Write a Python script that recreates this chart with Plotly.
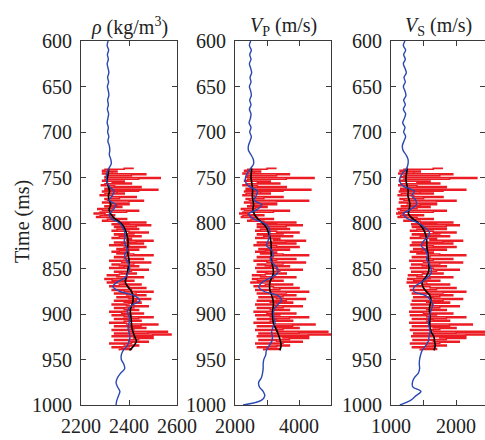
import plotly.graph_objects as go

# ---------------- data ----------------
t_blue = list(range(600, 1005, 5))
t_black = list(range(740, 945, 5))
t_red = list(range(740, 941, 1))

rho_blue = [2313, 2309, 2315, 2310, 2314, 2309, 2313, 2316, 2311, 2315,
            2310, 2314, 2316, 2311, 2314, 2310, 2315, 2312, 2309, 2314,
            2311, 2316, 2312, 2318, 2320, 2318, 2324, 2326, 2316, 2308,
            2306, 2309, 2318, 2338, 2330, 2318, 2346, 2335, 2318, 2326,
            2360, 2374, 2382, 2383, 2380, 2386, 2394, 2382, 2388, 2398,
            2403, 2396, 2385, 2350, 2333, 2360, 2424, 2445, 2415, 2396,
            2396, 2403, 2400, 2396, 2400, 2404, 2400, 2392, 2376, 2368,
            2368, 2378, 2382, 2365, 2352, 2346, 2352, 2362, 2356, 2349, 2346]
rho_black = [2315, 2314, 2310, 2309, 2314, 2319, 2314, 2318, 2324, 2317,
             2324, 2340, 2366, 2380, 2388, 2393, 2396, 2395, 2394, 2396,
             2400, 2400, 2396, 2393, 2388, 2385, 2395, 2410, 2416, 2417,
             2412, 2406, 2406, 2409, 2410, 2412, 2417, 2424, 2431, 2420, 2402]
rho_red = [2420, 2380, 2300, 2290, 2350, 2330, 2290, 2470, 2410, 2310,
           2300, 2530, 2440, 2300, 2290, 2380, 2330, 2410, 2300, 2285,
           2340, 2450, 2320, 2300, 2520, 2440, 2290, 2350, 2380, 2300,
           2280, 2330, 2430, 2360, 2300, 2310, 2460, 2400, 2290, 2320,
           2400, 2350, 2300, 2370, 2330, 2270, 2290, 2440, 2390, 2280,
           2255, 2300, 2340, 2280, 2265, 2330, 2390, 2310, 2290, 2360,
           2470, 2400, 2330, 2490, 2430, 2340, 2380, 2440, 2350, 2330,
           2400, 2480, 2420, 2340, 2380, 2450, 2360, 2330, 2410, 2390,
           2500, 2430, 2340, 2460, 2370, 2320, 2400, 2470, 2380, 2350,
           2440, 2360, 2330, 2400, 2350, 2420, 2500, 2390, 2340, 2380,
           2460, 2400, 2320, 2370, 2490, 2420, 2330, 2360, 2440, 2380,
           2320, 2400, 2480, 2410, 2340, 2370, 2430, 2360, 2310, 2350,
           2460, 2390, 2300, 2330, 2420, 2350, 2310, 2380, 2450, 2360,
           2320, 2400, 2470, 2410, 2330, 2380, 2500, 2430, 2340, 2390,
           2470, 2420, 2350, 2400, 2490, 2430, 2340, 2380, 2450, 2400,
           2330, 2390, 2480, 2420, 2340, 2380, 2440, 2390, 2320, 2370,
           2460, 2410, 2330, 2380, 2500, 2440, 2340, 2400, 2450, 2380,
           2320, 2390, 2520, 2450, 2340, 2400, 2470, 2420, 2330, 2400,
           2560, 2480, 2340, 2575, 2500, 2330, 2420, 2500, 2440, 2340,
           2400, 2480, 2410, 2320, 2380, 2440, 2400, 2330, 2370, 2410,
           2360]

vp_blue = [2490, 2450, 2510, 2460, 2500, 2450, 2490, 2520, 2470, 2500,
           2450, 2490, 2510, 2460, 2500, 2450, 2500, 2480, 2440, 2500,
           2460, 2510, 2470, 2420, 2420, 2500, 2570, 2580, 2490, 2390,
           2330, 2330, 2450, 2700, 2660, 2600, 2840, 2700, 2430, 2560,
           2900, 3060, 3090, 3070, 3030, 2990, 3150, 3190, 3110, 3200,
           3330, 3330, 3120, 2860, 2740, 2900, 3350, 3455, 3330, 3220,
           3200, 3220, 3250, 3180, 3145, 3170, 3150, 3060, 2980, 2960,
           2900, 2880, 2880, 2860, 2825, 2740, 2760, 2880, 2930, 2820, 2250]
vp_black = [2520, 2510, 2500, 2520, 2540, 2550, 2540, 2560, 2580, 2560,
            2600, 2700, 2860, 2980, 3040, 3090, 3120, 3130, 3130, 3130,
            3140, 3160, 3190, 3200, 3150, 3090, 3080, 3100, 3150, 3190,
            3200, 3180, 3170, 3180, 3200, 3260, 3330, 3380, 3420, 3440, 3400]
vp_red = [3300, 3000, 2400, 2300, 2800, 2600, 2250, 3700, 3300, 2400,
          2350, 4470, 3600, 2400, 2300, 3100, 2700, 3400, 2350, 2250,
          2700, 3600, 2500, 2350, 4370, 3500, 2300, 2800, 3100, 2350,
          2250, 2600, 3500, 2900, 2350, 2450, 4300, 3300, 2300, 2500,
          3300, 2800, 2400, 3000, 2650, 2200, 2300, 3700, 3200, 2250,
          2150, 2400, 2900, 2250, 2200, 2700, 3200, 2500, 2400, 2900,
          3900, 3300, 2700, 4100, 3600, 2700, 3000, 3700, 2800, 2650,
          3300, 4000, 3500, 2700, 3100, 3800, 2900, 2650, 3400, 3200,
          4200, 3600, 2700, 3900, 3000, 2600, 3300, 4000, 3100, 2750,
          3700, 2950, 2650, 3300, 2800, 3500, 4300, 3200, 2700, 3100,
          3900, 3300, 2600, 3000, 4200, 3500, 2700, 2950, 3700, 3100,
          2650, 3300, 4100, 3400, 2700, 3000, 3600, 2950, 2550, 2800,
          3900, 3200, 2550, 2700, 3500, 2850, 2500, 3100, 3800, 2950,
          2600, 3200, 4000, 3400, 2650, 3100, 4300, 3600, 2700, 3200,
          3900, 3500, 2750, 3300, 4200, 3600, 2700, 3100, 3800, 3300,
          2650, 3200, 4100, 3500, 2700, 3100, 3700, 3200, 2600, 3000,
          3900, 3400, 2650, 3100, 4300, 3700, 2700, 3300, 3800, 3100,
          2600, 3200, 4500, 3800, 2700, 3300, 4000, 3500, 2650, 3300,
          4900, 4000, 2750, 5100, 4300, 2700, 3500, 4300, 3700, 2750,
          3300, 4100, 3500, 2650, 3100, 3700, 3300, 2700, 3000, 3400,
          2900]

vs_blue = [1215, 1190, 1225, 1195, 1220, 1190, 1215, 1235, 1200, 1220,
           1190, 1215, 1230, 1195, 1220, 1190, 1225, 1205, 1180, 1215,
           1195, 1225, 1200, 1175, 1185, 1230, 1262, 1262, 1240, 1180,
           1140, 1136, 1200, 1360, 1320, 1380, 1390, 1300, 1190, 1250,
           1420, 1520, 1590, 1570, 1500, 1465, 1530, 1560, 1550, 1590,
           1615, 1620, 1560, 1470, 1360, 1350, 1540, 1610, 1641, 1620,
           1600, 1585, 1575, 1590, 1600, 1585, 1575, 1530, 1480, 1455,
           1440, 1435, 1440, 1420, 1360, 1330, 1335, 1460, 1380, 1300, 1136]
vs_black = [1250, 1240, 1230, 1235, 1250, 1265, 1260, 1280, 1290, 1280,
            1270, 1330, 1420, 1480, 1520, 1540, 1550, 1550, 1560, 1570,
            1575, 1580, 1585, 1570, 1530, 1480, 1490, 1540, 1600, 1615,
            1600, 1590, 1600, 1600, 1595, 1600, 1620, 1660, 1670, 1680, 1660]
vs_red = [1800, 1650, 1200, 1140, 1450, 1350, 1120, 1950, 1750, 1200,
          1150, 2320, 1900, 1200, 1130, 1600, 1400, 1750, 1160, 1120,
          1400, 1850, 1250, 1150, 2150, 1800, 1130, 1450, 1650, 1160,
          1110, 1350, 1800, 1500, 1140, 1200, 2000, 1700, 1130, 1250,
          1700, 1450, 1160, 1600, 1400, 1100, 1150, 1850, 1650, 1120,
          1090, 1200, 1500, 1150, 1110, 1400, 1650, 1300, 1200, 1450,
          1950, 1700, 1320, 2050, 1850, 1330, 1500, 1850, 1400, 1300,
          1650, 2000, 1750, 1330, 1550, 1900, 1450, 1300, 1700, 1600,
          2100, 1800, 1330, 1950, 1500, 1300, 1650, 2000, 1550, 1350,
          1850, 1480, 1300, 1650, 1400, 1750, 2150, 1600, 1330, 1550,
          1950, 1650, 1290, 1500, 2100, 1750, 1320, 1480, 1850, 1550,
          1300, 1650, 2050, 1700, 1320, 1500, 1800, 1480, 1270, 1400,
          1950, 1600, 1260, 1350, 1750, 1420, 1250, 1550, 1900, 1480,
          1290, 1600, 2000, 1700, 1300, 1550, 2150, 1800, 1330, 1600,
          1950, 1750, 1350, 1650, 2100, 1800, 1330, 1550, 1900, 1650,
          1310, 1600, 2050, 1750, 1330, 1550, 1850, 1600, 1290, 1500,
          1950, 1700, 1300, 1550, 2150, 1850, 1330, 1650, 1900, 1550,
          1290, 1600, 2250, 1900, 1330, 1650, 2000, 1750, 1300, 1650,
          2450, 2000, 1350, 2500, 2150, 1320, 1750, 2150, 1850, 1340,
          1650, 2050, 1750, 1300, 1550, 1850, 1650, 1330, 1500, 1700,
          1450]

titles = ["<i>ρ</i> (kg/m<sup>3</sup>)", "<i>V</i><sub>P</sub> (m/s)", "<i>V</i><sub>S</sub> (m/s)"]
x_ranges = [[2200, 2600], [2000, 5000], [1000, 2446]]
x_tickvals = [[2200, 2400, 2600], [2000, 4000], [1000, 2000]]
x_minor_dtick = [200, 1000, 500]
y_ticks = [600, 650, 700, 750, 800, 850, 900, 950, 1000]

# ---------------- styling ----------------
RED = "rgb(236,28,36)"
BLUE = "rgb(42,72,178)"
AX = "#3a3a3a"
FONT = "Liberation Serif"
FS = 20
W, H = 485, 440
x_dom_px = [(81, 177), (235, 331), (391, 485)]
y_dom = [1 - 405 / H, 1 - 41 / H]

fig = go.Figure()
series = [(rho_red, rho_blue, rho_black), (vp_red, vp_blue, vp_black), (vs_red, vs_blue, vs_black)]
for i, (red, blue, black) in enumerate(series):
    xa = "x" if i == 0 else f"x{i+1}"
    ya = "y" if i == 0 else f"y{i+1}"
    fig.add_trace(go.Scatter(x=red, y=t_red, mode="lines", line=dict(color=RED, width=1.6, shape="hv"),
                             xaxis=xa, yaxis=ya, showlegend=False, hoverinfo="skip"))
    fig.add_trace(go.Scatter(x=black, y=t_black, mode="lines", line=dict(color="black", width=1.6, shape="spline"),
                             xaxis=xa, yaxis=ya, showlegend=False))
    fig.add_trace(go.Scatter(x=blue, y=t_blue, mode="lines", line=dict(color=BLUE, width=1.4, shape="spline"),
                             xaxis=xa, yaxis=ya, showlegend=False))

layout = dict(
    template="none",
    width=W, height=H, margin=dict(l=0, r=0, t=0, b=0, autoexpand=False),
    paper_bgcolor="white", plot_bgcolor="white",
    font=dict(family=FONT, size=FS, color="#222"),
    showlegend=False,
)
annotations = []
for i in range(3):
    xk = "xaxis" if i == 0 else f"xaxis{i+1}"
    yk = "yaxis" if i == 0 else f"yaxis{i+1}"
    x0, x1 = x_dom_px[i]
    layout[xk] = dict(
        domain=[x0 / W, x1 / W], range=x_ranges[i], anchor="y" if i == 0 else f"y{i+1}",
        tickmode="array", tickvals=x_tickvals[i], ticks="inside", ticklen=5,
        tickcolor=AX, showline=True, linecolor=AX, linewidth=1, mirror="ticks",
        minor=dict(dtick=x_minor_dtick[i], tick0=x_ranges[i][0], ticks="inside", ticklen=5,
                   tickcolor=AX, showgrid=False),
        showgrid=False, zeroline=False, ticklabelstandoff=3, automargin=False,
        tickfont=dict(family=FONT, size=FS, color="#222"),
    )
    layout[yk] = dict(
        domain=y_dom, range=[1000, 600], anchor="x" if i == 0 else f"x{i+1}",
        tickmode="array", tickvals=y_ticks, ticks="inside", ticklen=5, tickcolor=AX,
        showline=True, linecolor=AX, linewidth=1, mirror="ticks",
        showgrid=False, zeroline=False, ticklabelstandoff=4, automargin=False,
        tickfont=dict(family=FONT, size=FS, color="#222"),
    )
    annotations.append(dict(
        text=titles[i], x=(x0 + x1) / 2 / W, y=y_dom[1], xref="paper", yref="paper",
        xanchor="center", yanchor="bottom", yshift=0, showarrow=False,
        font=dict(family=FONT, size=FS, color="#222"),
    ))
annotations.append(dict(
    text="Time (ms)", x=22 / W, y=1 - 222 / H, xref="paper", yref="paper",
    xanchor="center", yanchor="middle", textangle=-90, showarrow=False,
    font=dict(family=FONT, size=FS, color="#222"),
))
layout["annotations"] = annotations
fig.update_layout(**layout)

fig.write_html("out.html")
